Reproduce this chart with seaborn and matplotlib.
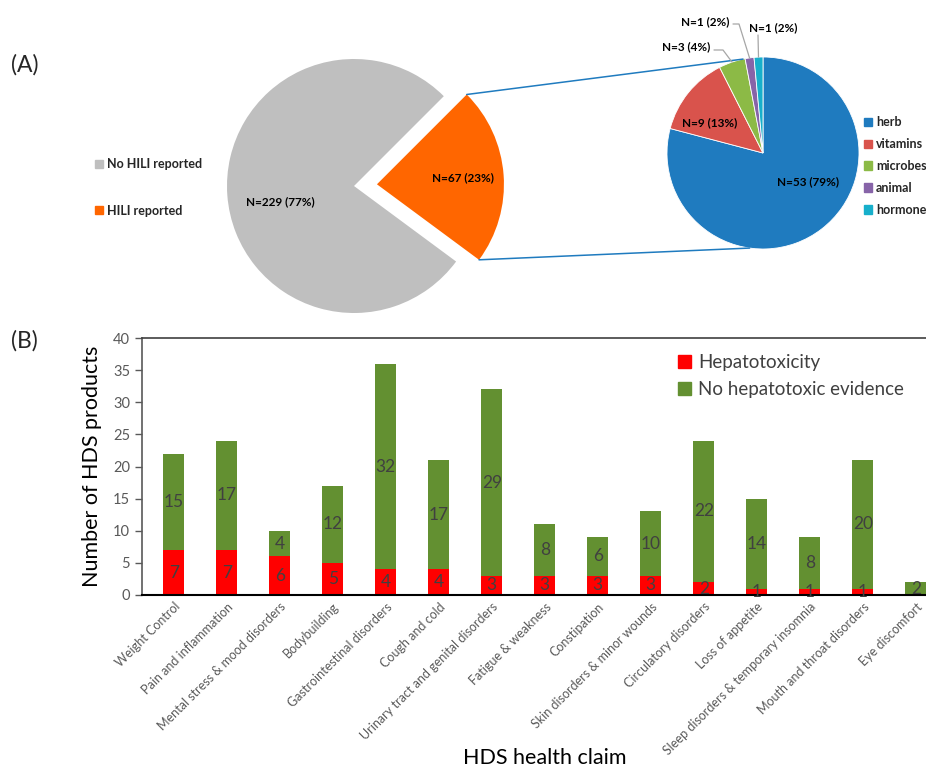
"""
HDS / HILI figure: (A) bar-of-pie, (B) stacked bars by health claim
"""

import numpy as np
import pandas as pd
import matplotlib
matplotlib.use("Agg")
import matplotlib.pyplot as plt
import seaborn as sns
from matplotlib.patches import Patch

# (A) HILI reported vs not
hili_labels = ["No HILI reported", "HILI reported"]
hili_counts = [229, 67]
hili_pct = [77, 23]
hili_colors = ["#BFBFBF", "#FF6600"]

# (A) breakdown of the HILI products by source
source_labels = ["herb", "vitamins", "microbes", "animal", "hormone"]
source_counts = [53, 9, 3, 1, 1]
source_pct = [79, 13, 4, 2, 2]
source_colors = ["#1F7BBF", "#D9534C", "#8CBA46", "#8764A8", "#17AFCB"]

# (B) health claims
claims = [
    "Weight Control", "Pain and inflammation", "Mental stress & mood disorders",
    "Bodybuilding", "Gastrointestinal disorders", "Cough and cold",
    "Urinary tract and genital disorders", "Fatigue & weakness", "Constipation",
    "Skin disorders & minor wounds", "Circulatory disorders", "Loss of appetite",
    "Sleep disorders & temporary insomnia", "Mouth and throat disorders",
    "Eye discomfort",
]
hepatotoxic = [7, 7, 6, 5, 4, 4, 3, 3, 3, 3, 2, 1, 1, 1, 0]
no_evidence = [15, 17, 4, 12, 32, 17, 29, 8, 6, 10, 22, 14, 8, 20, 2]

RED = "#FF0000"
GREEN = "#639031"
TXT = "#404040"
TICK = "#595959"

sns.set_theme(style="white")
plt.rcParams["font.family"] = ["Lato", "DejaVu Sans"]

W, H = 926, 769
fig = plt.figure(figsize=(W / 100, H / 100), dpi=100)

# ---------------- (A) pies, drawn in a pixel-sized axes ----------------
ax_a = fig.add_axes([0, 0, 1, 1])
ax_a.set_zorder(0)


def up(y):
    # pixel row (from top) -> axes y (from bottom)
    return H - y


c1, r1 = (354, up(186)), 127
w1, _ = ax_a.pie(hili_counts, colors=hili_colors, startangle=45, radius=r1,
                 center=c1, explode=[0, 23], wedgeprops=dict(linewidth=0))

c2, r2 = (763, up(153)), 96
w2, _ = ax_a.pie(source_counts, colors=source_colors, startangle=90,
                 counterclock=False, radius=r2, center=c2,
                 wedgeprops=dict(edgecolor="white", linewidth=0.6))

ax_a.set_xlim(0, W)
ax_a.set_ylim(0, H)
ax_a.set_aspect("equal")
ax_a.axis("off")


def rim(center, r, ang):
    a = np.deg2rad(ang)
    return center[0] + r * np.cos(a), center[1] + r * np.sin(a)


# connector lines from the exploded slice to the second pie
hw = w1[1]
for ang_a, ang_b in [(hw.theta2, 102), (hw.theta1, 262)]:
    p = rim(hw.center, hw.r, ang_a)
    q = rim(c2, r2, ang_b)
    ax_a.plot([p[0], q[0]], [p[1], q[1]], color="#1F7BBF", lw=1.1)

lbl = dict(fontsize=8.5, fontweight="bold", color="black", ha="center", va="center")
ax_a.text(280, up(202), f"N={hili_counts[0]} ({hili_pct[0]}%)", **lbl)
ax_a.text(463, up(178), f"N={hili_counts[1]} ({hili_pct[1]}%)", **lbl)
ax_a.text(808, up(182), f"N={source_counts[0]} ({source_pct[0]}%)", **lbl)
ax_a.text(710, up(123), f"N={source_counts[1]} ({source_pct[1]}%)", **lbl)

# small slices: outside labels with leader lines
outside = [(2, (686, 47), [(723, 50), (714, 50)]),
           (3, (705, 22), [(739, 24), (733, 24)]),
           (4, (773, 28), [(758, 35)])]
for i, tpos, elbow in outside:
    w = w2[i]
    pr = rim(c2, r2, (w.theta1 + w.theta2) / 2)
    xs = [pr[0]] + [e[0] for e in elbow]
    ys = [pr[1]] + [up(e[1]) for e in elbow]
    ax_a.plot(xs, ys, color="#A6A6A6", lw=0.9)
    ax_a.text(tpos[0], up(tpos[1]), f"N={source_counts[i]} ({source_pct[i]}%)", **lbl)

leg1 = fig.legend(handles=[Patch(color=c) for c in hili_colors], labels=hili_labels,
                  loc="upper left", bbox_to_anchor=(84 / W, 1 - 147 / H),
                  frameon=False, prop=dict(size=9, weight="bold"),
                  handlelength=0.65, handleheight=0.65, handletextpad=0.3,
                  labelspacing=2.75)

leg2 = fig.legend(handles=[Patch(color=c) for c in source_colors], labels=source_labels,
                  loc="upper left", bbox_to_anchor=(853 / W, 1 - 105 / H),
                  frameon=False, prop=dict(size=9, weight="bold"),
                  handlelength=0.65, handleheight=0.65, handletextpad=0.3,
                  labelspacing=0.79)

fig.text(11 / W, 1 - 65 / H, "(A)", fontsize=16.5, va="center", ha="left")
fig.text(11 / W, 1 - 341 / H, "(B)", fontsize=16.5, va="center", ha="left")

# ---------------- (B) stacked bars ----------------
df = pd.DataFrame({"claim": claims, "hep": hepatotoxic, "noev": no_evidence})
df["total"] = df["hep"] + df["noev"]

ax = fig.add_axes([142 / W, 1 - 595 / H, 795 / W, 257 / H])
ax.set_zorder(1)
ax.patch.set_alpha(0)

sns.barplot(data=df, x="claim", y="total", color=GREEN, width=0.4,
            saturation=1, ax=ax, linewidth=0)
sns.barplot(data=df, x="claim", y="hep", color=RED, width=0.4,
            saturation=1, ax=ax, linewidth=0)

green_bars, red_bars = ax.containers[0], ax.containers[1]
for bar, h, n in zip(green_bars, df["hep"], df["noev"]):
    ax.text(bar.get_x() + bar.get_width() / 2, h + n / 2, str(n),
            ha="center", va="center", fontsize=12.5, color=TXT)
for bar, h in zip(red_bars, df["hep"]):
    if h > 0:
        ax.text(bar.get_x() + bar.get_width() / 2, h / 2, str(h),
                ha="center", va="center", fontsize=12.5, color=TXT)

ax.set_xlim(-0.6, 14.4)
ax.set_ylim(0, 40)
ax.set_yticks(range(0, 41, 5))
ax.tick_params(axis="y", colors=TICK, labelsize=10.5, length=5, width=1,
               direction="out", left=True)
ax.tick_params(axis="x", length=0, pad=4)
ax.set_xticks(range(len(claims)))
ax.set_xticklabels(claims, rotation=45, ha="right", rotation_mode="anchor",
                   fontsize=9, color=TICK)

ax.spines["right"].set_visible(False)
ax.spines["left"].set_color(TICK)
ax.spines["left"].set_linewidth(1.2)
ax.spines["bottom"].set_color("black")
ax.spines["bottom"].set_linewidth(1.5)
ax.spines["top"].set_color(TXT)
ax.spines["top"].set_linewidth(1.2)

ax.set_ylabel("Number of HDS products", fontsize=15.5, color="black", labelpad=8)
ax.set_xlabel("")
fig.text(545 / W, 1 - 758 / H, "HDS health claim", fontsize=15.5,
         ha="center", va="center", color="black")

ax.legend(handles=[Patch(color=RED), Patch(color=GREEN)],
          labels=["Hepatotoxicity", "No hepatotoxic evidence"],
          loc="upper left", bbox_to_anchor=(661 / W, 1 - 337 / H),
          bbox_transform=fig.transFigure, frameon=False,
          prop=dict(size=13.5), labelcolor=TXT,
          handlelength=0.7, handleheight=0.7, handletextpad=0.4,
          labelspacing=0.55)

fig.savefig("out.png", dpi=100)
